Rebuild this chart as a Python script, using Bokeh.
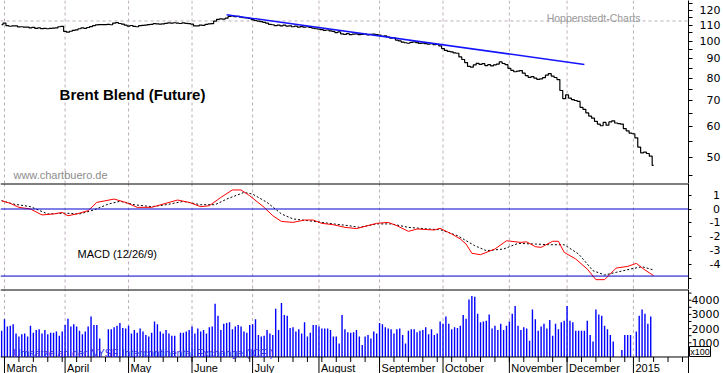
import numpy as np
from bokeh.plotting import figure
from bokeh.layouts import column
from bokeh.models import Range1d, FixedTicker, Span, Label
from bokeh.embed import file_html
from bokeh.resources import INLINE
from bokeh.core.properties import value

# ---------------- data (x = weekday number, 0 = Mon 3 March 2014) ----------------
FIRST_DAY = -1  # Fri 28 Feb 2014

close = [
    110.3,
    # March
    111.2, 109.6, 109.2, 109.4, 109.5, 108.8, 108.9, 108.6, 108.7, 108.2,
    108.5, 107.8, 108.1, 107.7, 107.9, 107.6, 107.9, 108.0, 108.1, 108.9, 109.1,
    # April
    105.9, 105.4, 106.0, 106.6, 106.9, 107.6, 108.1, 107.9, 108.4, 109.0,
    109.6, 110.1, 110.3, 110.3, 110.3, 110.4, 110.2, 111.3, 111.6, 111.0, 110.6, 109.9,
    # May
    109.3, 109.7, 109.1, 108.9, 109.6, 109.8, 110.0, 110.3, 110.5, 110.9,
    110.8, 110.6, 110.7, 111.1, 111.4, 111.2, 111.5, 111.2, 111.0, 111.4, 111.1, 110.9,
    # June
    110.6, 109.5, 109.4, 110.0, 109.8, 110.4, 110.7, 110.9, 112.6, 113.8,
    114.1, 114.0, 114.6, 115.8, 116.2, 115.6, 115.9, 115.3, 115.0, 114.8, 114.4,
    # July
    113.6, 113.0, 112.6, 112.3, 111.8, 111.2, 110.5, 110.2, 109.6, 110.0,
    109.4, 109.9, 109.3, 109.5, 108.9, 109.3, 108.7, 109.0, 108.6, 108.9, 108.4, 108.0, 107.6,
    # August
    107.4, 107.0, 106.6, 106.8, 106.2, 105.9, 105.2, 105.6, 104.4, 104.0,
    104.5, 103.9, 104.2, 104.4, 103.9, 104.1, 104.3, 103.8, 104.0, 104.2, 103.9,
    # September
    103.6, 102.9, 103.1, 102.4, 101.8, 101.9, 100.6, 100.1, 99.4, 99.0,
    98.7, 99.2, 99.5, 99.1, 98.6, 98.8, 98.5, 98.2, 98.4, 97.9, 98.1, 97.2,
    # October
    95.6, 94.6, 94.0, 93.8, 93.2, 93.0, 91.0, 89.6, 88.0, 86.0,
    85.6, 86.8, 87.6, 87.0, 87.4, 86.4, 86.9, 86.3, 86.8, 87.2, 88.3, 87.5, 86.9,
    # November
    85.0, 84.0, 83.3, 83.6, 83.9, 82.6, 81.4, 80.6, 80.9, 80.2,
    79.6, 79.8, 80.4, 81.6, 82.4, 81.2, 80.5, 79.5, 74.5, 71.0,
    # December
    72.6, 71.2, 70.6, 70.2, 69.8, 67.4, 66.6, 65.2, 64.0, 63.2,
    62.0, 61.0, 60.4, 61.6, 60.6, 61.8, 62.2, 61.4, 61.2, 61.0, 59.4, 58.6, 57.8,
    # January 2015
    57.6, 56.2, 53.2, 51.4, 51.6, 51.2, 50.4, 47.7,
]

volume = [
    1850,
    # March
    2650, 2150, 2200, 2300, 1650, 1450, 1600, 1650, 1450, 2200,
    1700, 1900, 1950, 1650, 1900, 1600, 1700, 1700, 1800, 1500, 1800,
    # April
    2250, 2700, 2150, 2300, 2150, 1850, 1600, 1800, 2150, 2850,
    2250, 2250, 1300, 0, 0, 1950, 1950, 2100, 2200, 2400, 2050, 2000,
    # May
    2200, 1650, 1900, 1700, 2000, 1800, 1550, 1450, 1700, 2500,
    2300, 1800, 1650, 1900, 1650, 1500, 1500, 0, 1700, 1700, 1800, 1900,
    # June
    2150, 1650, 2000, 1800, 1900, 1650, 2100, 2150, 3750, 2900,
    1900, 2350, 2400, 2450, 1950, 2150, 2250, 2150, 1800, 1700, 2250,
    # July
    2300, 2650, 1550, 1450, 1500, 1900, 1650, 1550, 3400, 1900,
    3800, 2950, 2900, 2050, 2100, 1800, 1950, 1650, 2450, 1450, 1700, 2250, 2250,
    # August
    2150, 2000, 2000, 2000, 1900, 1450, 1450, 950, 2950, 1950,
    1750, 1700, 1750, 1900, 1450, 850, 1450, 1550, 1300, 1800, 1650,
    # September
    2400, 2300, 2100, 2000, 1950, 1650, 1950, 2000, 1550, 950,
    1850, 1950, 1950, 1750, 1850, 1900, 2100, 1600, 1950, 1550, 1650, 2500,
    # October
    2350, 2850, 2350, 1950, 2100, 2050, 2200, 2950, 2700, 4050,
    4300, 4250, 3050, 2450, 2500, 2550, 3000, 2000, 2200, 1900, 2350, 1900, 2200,
    # November
    2500, 3050, 3600, 2200, 1900, 2100, 2000, 1150, 3350, 2650,
    1850, 2150, 2350, 2000, 2600, 1500, 2350, 1950, 2450, 2550,
    # December
    3600, 2550, 2450, 1850, 1850, 1850, 1850, 2550, 1550, 1100,
    3350, 3000, 2900, 2200, 1950, 1550, 1100, 0, 0, 500, 1550, 1550, 1550,
    # January 2015
    0, 1800, 2900, 3350, 3050, 2350, 2850, 0,
]

macd_day = [-1, 2, 5, 9, 13, 17, 20, 22, 25, 29, 32, 38, 42, 46, 51, 55, 60, 64, 68, 71,
            75, 79, 82, 85, 90, 93, 96, 100, 104, 107, 110, 114, 118, 122, 129, 133, 136, 140, 143, 149,
            151, 155, 158, 160, 162, 165, 170, 174, 179, 181, 184, 186, 190, 192, 194, 198, 202, 205, 208, 212,
            216, 219, 222, 225]
macd = [0.60, 0.41, 0.12, 0.00, -0.43, -0.36, -0.25, -0.49, -0.36, -0.12,
        0.48, 0.72, 0.48, 0.12, 0.12, 0.36, 0.65, 0.48, 0.17, 0.24,
        0.84, 1.38, 1.38, 0.96, 0.12, -0.49, -0.90, -0.97, -0.80, -0.80,
        -1.04, -1.14, -1.33, -1.42, -1.04, -0.97, -1.21, -1.62, -1.45, -1.52,
        -1.40, -1.81, -2.17, -2.54, -3.21, -3.31, -2.90, -2.30, -2.42, -2.38,
        -2.73, -2.78, -2.34, -2.34, -3.14, -3.62, -4.35, -5.12, -5.12, -4.28,
        -4.16, -3.94, -4.42, -4.83]

signal_day = [-1, 3, 9, 15, 21, 26, 31, 36, 40, 45, 51, 56, 62, 68, 73, 77, 83, 86, 91, 96,
              100, 105, 110, 114, 119, 123, 129, 134, 140, 147, 151, 157, 163, 167, 173, 178, 184, 189, 194, 199,
              204, 208, 212, 217, 221, 225]
signal = [0.60, 0.36, 0.17, -0.36, -0.30, -0.36, -0.07, 0.36, 0.56, 0.31,
          0.17, 0.31, 0.55, 0.31, 0.31, 0.72, 1.20, 1.08, 0.48, -0.36,
          -0.72, -0.84, -0.97, -1.08, -1.20, -1.33, -1.08, -1.08, -1.33, -1.45,
          -1.50, -1.93, -2.66, -3.02, -2.90, -2.49, -2.54, -2.59, -2.59, -3.26,
          -4.47, -4.78, -4.59, -4.35, -4.18, -4.42]

trend_day = [77, 201]
trend_price = [116.9, 87.0]
resistance_level = 112.7
macd_levels = [0.0, -4.86]

month_day = [0, 21, 43, 65, 86, 109, 130, 152, 175, 195, 218]
month_label = ["March", "April", "May", "June", "July", "August", "September",
               "October", "November", "December", "2015"]
week_day = list(range(0, 240, 5))

price_ticks = [50, 60, 70, 80, 90, 100, 110, 120]
price_minor = [45, 55, 65, 75, 85, 95, 105, 115, 125]
macd_ticks = [-4, -3, -2, -1, 0, 1]
macd_minor = [-5]
vol_ticks = [1000, 2000, 3000, 4000]
vol_minor = [500, 1500, 2500, 3500, 4500]
vol_unit_label = "x100"
vol_unit_level = 387

days = list(range(FIRST_DAY, FIRST_DAY + len(close)))

# ---------------- styling ----------------
FONT = "Liberation Sans"
AXFONT = "DejaVu Sans"
GRID = "#bcaebc"
FW = 688
X0, X1 = -1.386, 237.09
PX_PER_DAY = FW / (X1 - X0)

xr = Range1d(X0, X1)


def make(h, yr, ytype="linear"):
    p = figure(x_range=xr, y_range=yr, y_axis_type=ytype, frame_width=FW, frame_height=h,
               x_axis_location=None, y_axis_location="right", output_backend="svg",
               toolbar_location=None, min_border=0)
    p.outline_line_color = None
    p.grid.visible = False
    p.background_fill_color = "white"
    p.border_fill_color = "white"
    ax = p.yaxis[0]
    ax.axis_line_color = "black"
    ax.major_tick_line_color = "black"
    ax.minor_tick_line_color = "black"
    ax.major_tick_in = 0
    ax.minor_tick_in = 0
    ax.major_label_text_font = AXFONT
    ax.major_label_text_font_size = "11px"
    ax.major_label_text_color = "black"
    return p


# ---------------- price panel ----------------
p1 = make(183, Range1d(42.83, 127.3), "log")
a1 = p1.yaxis[0]
a1.ticker = FixedTicker(ticks=price_ticks, minor_ticks=price_minor)
a1.major_tick_out = 4
a1.minor_tick_out = 4
a1.major_label_standoff = 7
a1.major_label_overrides = {t: ("\u2007" if t < 100 else "") + str(t) for t in price_ticks}

for d in month_day:
    p1.add_layout(Span(location=d, dimension="height", line_color=GRID, line_dash="3 3",
                       line_width=1, level="underlay"))
p1.add_layout(Span(location=resistance_level, dimension="width", line_color=GRID,
                   line_dash="3 3", line_width=1, level="underlay"))

p1.step(days, close, mode="center", line_color="black", line_width=1.2)
p1.line(trend_day, trend_price, line_color="#1414ff", line_width=1.5)

p1.add_layout(Label(x=204.2, y=114.7, text="Hoppenstedt-Charts", text_align="center",
                    text_baseline="alphabetic", text_font=FONT, text_font_size="10.5px",
                    text_color="#999999"))
p1.add_layout(Label(x=19.1, y=72.75, text="Brent Blend (Future)", text_align="left",
                    text_baseline="alphabetic", text_font=FONT, text_font_size="15px",
                    text_font_style="bold", text_color="black"))
p1.add_layout(Label(x=3.1, y=45.06, text="www.chartbuero.de", text_align="left",
                    text_baseline="alphabetic", text_font=FONT, text_font_size="11px",
                    text_color="#8c8c8c"))

# ---------------- MACD panel ----------------
p2 = make(106, Range1d(-5.833, 1.848))
a2 = p2.yaxis[0]
a2.ticker = FixedTicker(ticks=macd_ticks, minor_ticks=macd_minor)
a2.major_tick_out = 3
a2.minor_tick_out = 3
a2.major_label_standoff = 18
a2.major_label_overrides = {t: ("\u2008" + str(t)) if t >= 0 else "-" + str(-t) for t in macd_ticks}

for d in month_day:
    p2.add_layout(Span(location=d, dimension="height", line_color=GRID, line_dash="3 3",
                       line_width=1, level="underlay"))
for lv in macd_levels:
    p2.add_layout(Span(location=lv, dimension="width", line_color="#0000cc", line_width=1))
p2.add_layout(Span(location=1.848, dimension="width", line_color="black", line_width=2))

p2.line(signal_day, signal, line_color="black", line_width=1, line_dash="2 2")
p2.line(macd_day, macd, line_color="#ff0000", line_width=1)

p2.add_layout(Label(x=25.3, y=-3.26, text="MACD (12/26/9)", text_align="left",
                    text_baseline="alphabetic", text_font=FONT, text_font_size="11px",
                    text_color="black"))

# ---------------- volume panel (with date band and its own scale at the right) ----------------
VTOP, VBOT = 4753.5, -1162
x3 = Range1d(X0, X0 + 723 / PX_PER_DAY)
p3 = figure(x_range=x3, y_range=Range1d(VBOT, VTOP), frame_width=723, frame_height=84,
            x_axis_location=None, y_axis_location=None, output_backend="svg",
            toolbar_location=None, min_border=0)
p3.outline_line_color = None
p3.grid.visible = False

p3.ray(x=month_day, y=[0] * len(month_day), length=0, angle=np.pi / 2,
       line_color=GRID, line_dash="3 3", line_width=1)
p3.segment(x0=days, y0=[0] * len(days), x1=days, y1=volume, line_color="#0000ff", line_width=1.4)

# frame lines
p3.segment(x0=[X0], y0=[0], x1=[X1], y1=[0], line_color="black", line_width=1)
p3.segment(x0=[X0], y0=[VTOP], x1=[X1], y1=[VTOP], line_color="black", line_width=2)
p3.segment(x0=[X1], y0=[VBOT], x1=[X1], y1=[VTOP], line_color="black", line_width=1)

# date axis
p3.ray(x=week_day, y=[0] * len(week_day), length=5, length_units="screen", angle=-np.pi / 2,
       line_color="black", line_width=1)
p3.ray(x=month_day, y=[0] * len(month_day), length=17, length_units="screen", angle=-np.pi / 2,
       line_color="black", line_width=1)
p3.text(x=month_day, y=[0] * len(month_day), text=month_label, x_offset=2, y_offset=11.5,
        text_font=value(FONT), text_font_size=value("11px"), text_align="left",
        text_baseline="alphabetic", text_color="black")

# volume scale
p3.ray(x=[X1] * len(vol_ticks), y=vol_ticks, length=3, length_units="screen", angle=0,
       line_color="black", line_width=1)
p3.ray(x=[X1] * len(vol_minor), y=vol_minor, length=3, length_units="screen", angle=0,
       line_color="black", line_width=1)
p3.text(x=[X1] * len(vol_ticks), y=vol_ticks, text=[str(v) for v in vol_ticks], x_offset=3,
        text_font=value(AXFONT), text_font_size=value("11px"), text_align="left",
        text_baseline="middle", text_color="black")
p3.rect(x=[X1 + 11.5 / PX_PER_DAY], y=[vol_unit_level], width=21, height=10,
        width_units="screen", height_units="screen", fill_color="white", line_color="black",
        line_width=1)
p3.text(x=[X1 + 11.5 / PX_PER_DAY], y=[vol_unit_level], text=[vol_unit_label],
        text_font=value(FONT), text_font_size=value("9px"), text_align="center",
        text_baseline="middle", text_color="black")

p3.add_layout(Label(x=3.0, y=282, text="Umsätze an der NYSE Intercontinental Exchange (ICE )",
                    text_align="left", text_baseline="alphabetic", text_font=FONT,
                    text_font_size="10.5px", text_color="#3c2ee0"))

layout = column(p1, p2, p3)
open("out.html", "w").write(file_html(layout, INLINE))
